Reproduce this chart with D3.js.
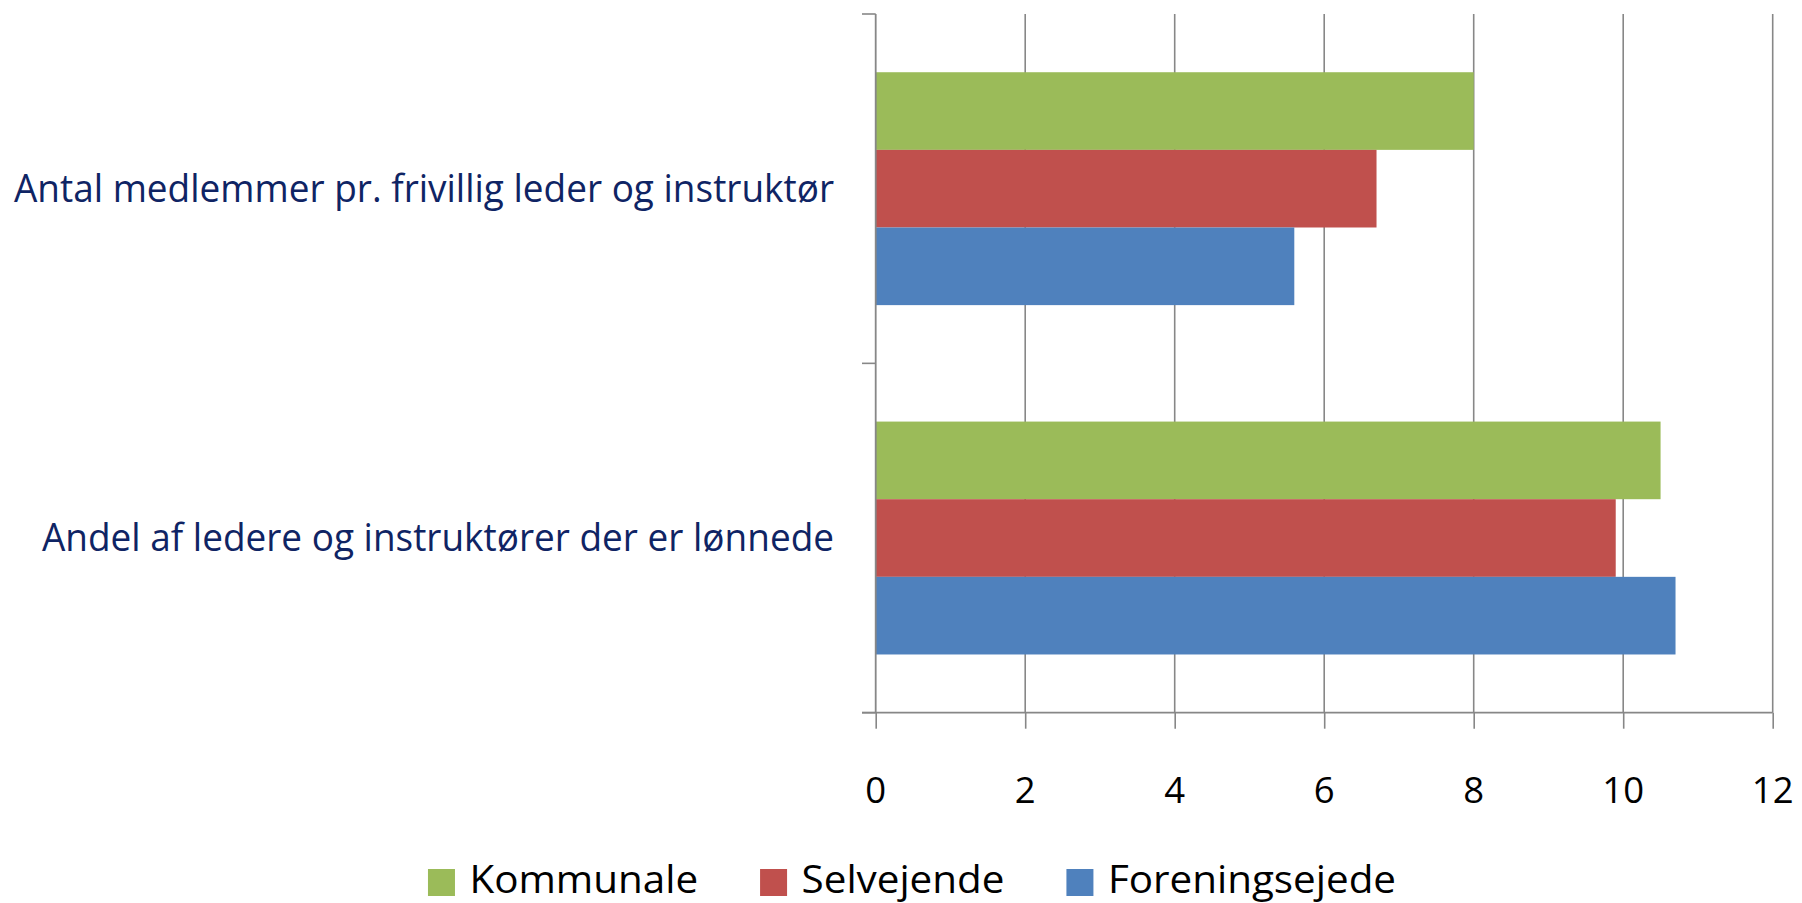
<!DOCTYPE html>
<html>
<head>
<meta charset="utf-8">
<script src="https://cdn.jsdelivr.net/npm/d3@7"></script>
<style>
  html, body { margin: 0; padding: 0; background: #fff; }
  svg { display: block; font-family: "Open Sans", sans-serif; }
</style>
</head>
<body>
<div class="container"></div>
<script>
var categories = ["Antal medlemmer pr. frivillig leder og instruktør", "Andel af ledere og instruktører der er lønnede"];
var seriesNames = ["Kommunale", "Selvejende", "Foreningsejede"];
var seriesColors = ["#9BBB59", "#C0504D", "#4F81BD"];
var kommunale = [8.0, 10.5];
var selvejende = [6.7, 9.9];
var foreningsejede = [5.6, 10.7];
var tickValues = [0, 2, 4, 6, 8, 10, 12];

var SVG_WIDTH = 1802, SVG_HEIGHT = 903;
var GRID = "#878787";

document.addEventListener('DOMContentLoaded', function () {
    var svg = d3.select(".container").append("svg")
        .attr("width", SVG_WIDTH)
        .attr("height", SVG_HEIGHT);

    var values = [kommunale, selvejende, foreningsejede];
    var rows = [];
    categories.forEach(function (c, ci) {
        seriesNames.forEach(function (s, si) {
            rows.push({ cat: c, series: s, value: values[si][ci], color: seriesColors[si] });
        });
    });

    var x = d3.scaleLinear().domain([0, 12]).range([875.7, 1772.7]);
    var y = d3.scaleBand().domain(categories).range([14, 712.7]).padding(0);
    var ySub = d3.scaleBand().domain(seriesNames).range([0, y.bandwidth()])
        .paddingInner(0).paddingOuter(0.75);

    // vertical gridlines
    svg.append("g")
        .selectAll("line")
        .data(tickValues.slice(1))
        .enter().append("line")
        .attr("x1", function (d) { return x(d); })
        .attr("x2", function (d) { return x(d); })
        .attr("y1", 14)
        .attr("y2", 712.7)
        .attr("stroke", GRID)
        .attr("stroke-width", 1.6);

    // bars
    svg.append("g")
        .selectAll("rect")
        .data(rows)
        .enter().append("rect")
        .attr("x", x(0))
        .attr("y", function (d) { return y(d.cat) + ySub(d.series); })
        .attr("width", function (d) { return x(d.value) - x(0); })
        .attr("height", ySub.bandwidth())
        .attr("fill", function (d) { return d.color; });

    // x axis
    var xAxis = svg.append("g")
        .attr("transform", "translate(0," + 712.7 + ")")
        .call(d3.axisBottom(x).tickValues(tickValues).tickSize(16).tickFormat(d3.format("d")).tickPadding(0));
    xAxis.select(".domain").remove();
    xAxis.selectAll(".tick line").attr("stroke", GRID).attr("stroke-width", 1.6);
    xAxis.selectAll(".tick text").remove();
    xAxis.append("line")
        .attr("x1", 862).attr("x2", x(12))
        .attr("stroke", GRID).attr("stroke-width", 1.8);

    // tick labels
    svg.append("g")
        .selectAll("text")
        .data(tickValues)
        .enter().append("text")
        .attr("x", function (d) { return x(d); })
        .attr("y", 802.7)
        .attr("text-anchor", "middle")
        .attr("font-size", 36.5)
        .attr("fill", "#000")
        .text(function (d) { return d; });

    // y axis
    var yTicks = [14].concat(categories.map(function (c) { return y(c) + y.bandwidth(); }));
    var yAxis = svg.append("g");
    yAxis.append("line")
        .attr("x1", x(0)).attr("x2", x(0))
        .attr("y1", 14).attr("y2", 712.7)
        .attr("stroke", GRID).attr("stroke-width", 1.8);
    yAxis.selectAll("line.tick")
        .data(yTicks)
        .enter().append("line")
        .attr("class", "tick")
        .attr("x1", 862).attr("x2", x(0))
        .attr("y1", function (d) { return d; })
        .attr("y2", function (d) { return d; })
        .attr("stroke", GRID).attr("stroke-width", 1.6);

    // category labels
    var catLabels = svg.append("g")
        .selectAll("text")
        .data(categories)
        .enter().append("text")
        .attr("x", 834)
        .attr("y", function (d) { return y(d) + y.bandwidth() / 2 + 13; })
        .attr("text-anchor", "end")
        .attr("font-size", 39)
        .attr("fill", "#0F2464")
        .text(function (d) { return d; });

    // condense text to mimic a narrow office font
    function condense(sel, ratio) {
        sel.each(function () {
            var len = this.getComputedTextLength();
            d3.select(this).attr("textLength", len * ratio).attr("lengthAdjust", "spacingAndGlyphs");
        });
    }
    condense(catLabels, 820 / catLabels.nodes()[0].getComputedTextLength());

    // legend
    var legend = svg.append("g").attr("id", "legend");
    var items = legend.selectAll("g")
        .data(seriesNames)
        .enter().append("g");
    items.append("rect")
        .attr("width", 27).attr("height", 27)
        .attr("y", 869)
        .attr("fill", function (d, i) { return seriesColors[i]; });
    var legendText = items.append("text")
        .attr("x", 41.5)
        .attr("y", 893.3)
        .attr("font-size", 37.5)
        .attr("fill", "#000")
        .text(function (d) { return d; });
    condense(legendText, 228.6 / legendText.nodes()[0].getComputedTextLength());

    var cursor = 0, offsets = [];
    legendText.each(function () {
        offsets.push(cursor);
        cursor += 41.5 + +d3.select(this).attr("textLength") + 62;
    });
    var total = cursor - 62;
    var start = 912 - total / 2;
    items.attr("transform", function (d, i) { return "translate(" + (start + offsets[i]) + ",0)"; });
});
</script>
</body>
</html>
